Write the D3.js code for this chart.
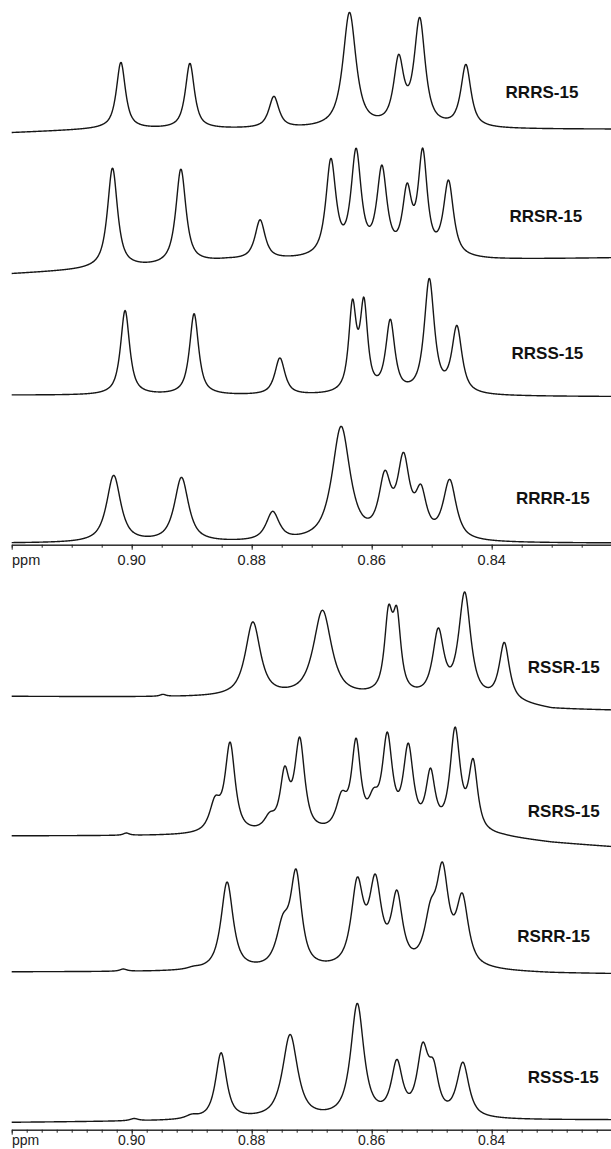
<!DOCTYPE html>
<html>
<head>
<meta charset="utf-8">
<script src="https://cdn.jsdelivr.net/npm/d3@7/dist/d3.min.js"></script>
<style>
  body { margin: 0; background: #fff; }
  svg { display: block; }
</style>
</head>
<body>
<div class="graph"></div>
<script>
// spectrum names, top to bottom
let names = ["RRRS-15", "RRSR-15", "RRSS-15", "RRRR-15", "RSSR-15", "RSRS-15", "RSRR-15", "RSSS-15"];

// peaks: [ppm, observed height above baseline, half width (ppm)]
let peaksRRRS = [[0.9018, 67, 0.0009], [0.8903, 66, 0.0009], [0.8763, 33, 0.0010], [0.8637, 117, 0.0013],
  [0.8555, 75, 0.0010], [0.8520, 112, 0.0011], [0.8443, 65, 0.0010]];
let peaksRRSR = [[0.9032, 101, 0.0010], [0.8918, 96, 0.0010], [0.8786, 41, 0.0010], [0.8668, 102, 0.0010],
  [0.8626, 112, 0.0010], [0.8583, 95, 0.0010], [0.8541, 77, 0.0009], [0.8515, 112, 0.0009], [0.8472, 80, 0.0010]];
let peaksRRSS = [[0.9011, 85, 0.0009], [0.8896, 82, 0.0009], [0.8753, 38, 0.0010], [0.8632, 97, 0.00075],
  [0.8613, 99, 0.00075], [0.8569, 77, 0.0009], [0.8504, 118, 0.0010], [0.8458, 71, 0.0010]];
let peaksRRRR = [[0.9030, 68, 0.0014], [0.8917, 66, 0.0014], [0.8765, 32, 0.0013], [0.8651, 117, 0.0018],
  [0.8578, 73, 0.0012], [0.8547, 91, 0.0012], [0.8518, 59, 0.0011], [0.8470, 64, 0.0013]];
let peaksRSSR = [[0.8948, 3, 0.0006], [0.8798, 76, 0.0015], [0.8682, 88, 0.0018], [0.8572, 94, 0.0008],
  [0.8558, 93, 0.0008], [0.8489, 73, 0.0011], [0.8445, 110, 0.0012], [0.8379, 61, 0.0010]];
let peaksRSRS = [[0.9009, 3, 0.0006], [0.8891, 5, 0.0012], [0.8861, 40, 0.0011], [0.8836, 94, 0.0010],
  [0.8770, 24, 0.0011], [0.8745, 70, 0.0009], [0.8720, 99, 0.0010], [0.8650, 45, 0.0011],
  [0.8626, 98, 0.0009], [0.8597, 48, 0.0010], [0.8574, 104, 0.0010], [0.8539, 93, 0.0010],
  [0.8502, 68, 0.0009], [0.8461, 109, 0.0010], [0.8431, 78, 0.0009]];
let peaksRSRR = [[0.9014, 3, 0.0007], [0.8897, 6, 0.0012], [0.8841, 90, 0.0012], [0.8748, 58, 0.0013],
  [0.8726, 103, 0.0011], [0.8624, 95, 0.0012], [0.8594, 98, 0.0012], [0.8558, 82, 0.0011],
  [0.8502, 72, 0.0012], [0.8482, 110, 0.0012], [0.8449, 79, 0.0012]];
let peaksRSSS = [[0.8996, 3, 0.0008], [0.8900, 7, 0.0012], [0.8851, 68, 0.0011], [0.8736, 86, 0.0015],
  [0.8624, 117, 0.0013], [0.8558, 61, 0.0011], [0.8515, 78, 0.0011], [0.8497, 61, 0.0010],
  [0.8448, 58, 0.0012]];

// baseline drift: [ppm, offset]
let driftRRRS = [[0.92, -3.5], [0.905, 0], [0.82, 0]];
let driftRRSR = [[0.92, -16], [0.907, -12], [0.8955, -9], [0.884, -3], [0.86, -2], [0.84, -2], [0.82, 0]];
let driftRRSS = [[0.92, 1.5], [0.82, 0]];
let driftRRRR = [[0.92, 0], [0.82, 0]];
let driftRSSR = [[0.92, 14], [0.86, 12], [0.837, 7], [0.83, 1], [0.82, 0]];
let driftRSRS = [[0.92, 11], [0.845, 11], [0.838, 9], [0.83, 4], [0.82, 0]];
let driftRSRR = [[0.92, 2], [0.84, 2], [0.83, 0.5], [0.82, 0]];
let driftRSSS = [[0.92, -2.5], [0.88, -0.5], [0.82, 0]];

let majorTicks = [0.92, 0.90, 0.88, 0.86, 0.84, 0.82];
let tickLabels = ["0.90", "0.88", "0.86", "0.84"];

let peaks = [peaksRRRS, peaksRRSR, peaksRRSS, peaksRRRR, peaksRSSR, peaksRSRS, peaksRSRR, peaksRSSS];
let drifts = [driftRRRS, driftRRSR, driftRRSS, driftRRRR, driftRSSR, driftRSRS, driftRSRR, driftRSSS];

// layout (pixels)
let w = 611;
let h = 1149;
let baseY = [129.3, 258, 396.7, 543.3, 710.5, 847, 974, 1120];
let labelPos = [[505.6, 98.3], [509.5, 221.7], [511.5, 359.3], [516, 504],
  [527.8, 673.3], [527.8, 816.7], [517.3, 941.7], [527.8, 1083.3]];
let axisY = [544.7, 1129.7];
let labelDy = [20.3, 15.8];
let minorStep = [0.005, 0.0025];

let svg = d3.select(".graph").append("svg").attr("width", w).attr("height", h);
svg.append("rect").attr("width", w).attr("height", h).attr("fill", "#fff");

let xScale = d3.scaleLinear().domain([0.92, 0.82]).range([11.7, 611.7]);

// line shape: mostly lorentzian
let eta = 0.85;
function shape(d, hw) {
  let u = (d / hw) * (d / hw);
  return eta / (1 + u) + (1 - eta) * Math.exp(-Math.LN2 * u);
}

// amplitudes so the summed trace hits the observed peak heights
function solveAmps(pk) {
  let amps = pk.map((p) => p[1]);
  for (let it = 0; it < 300; it++) {
    for (let i = 0; i < pk.length; i++) {
      let s = 0;
      for (let j = 0; j < pk.length; j++) {
        if (j != i) s += amps[j] * shape(pk[i][0] - pk[j][0], pk[j][2]);
      }
      amps[i] = Math.max(0, pk[i][1] - s);
    }
  }
  return amps;
}

let grid = d3.range(0, 2001).map((i) => 0.92 - i * 0.00005);

peaks.forEach(function (pk, k) {
  let amps = solveAmps(pk);
  let drift = d3.scaleLinear().domain(drifts[k].map((d) => d[0])).range(drifts[k].map((d) => d[1]));
  let yScale = d3.scaleLinear().domain([0, 100]).range([baseY[k], baseY[k] - 100]);
  let pts = grid.map(function (p) {
    let v = drift(p);
    pk.forEach(function (q, i) {
      v += amps[i] * shape(p - q[0], q[2]);
    });
    return [p, v];
  });
  let line = d3.line().curve(d3.curveBasis).x((d) => xScale(d[0])).y((d) => yScale(d[1]));
  svg.append("path")
    .attr("d", line(pts))
    .attr("fill", "none")
    .attr("stroke", "#161616")
    .attr("stroke-width", 1.4)
    .attr("stroke-linejoin", "round");

  svg.append("text")
    .attr("x", labelPos[k][0])
    .attr("y", labelPos[k][1])
    .attr("font-family", "Liberation Sans, Arial, sans-serif")
    .attr("font-weight", "bold")
    .attr("font-size", 17)
    .attr("fill", "#111")
    .text(names[k]);
});

axisY.forEach(function (ay, a) {
  let g = svg.append("g").attr("transform", "translate(0," + ay + ")");
  let minors = d3.range(0, Math.round(0.1 / minorStep[a]) + 1).map((i) => 0.82 + i * minorStep[a]);
  g.append("g").call(d3.axisBottom(xScale).tickValues(minors).tickSize(3).tickSizeOuter(0).tickFormat(""));
  g.append("g").call(d3.axisBottom(xScale).tickValues(majorTicks).tickSize(5).tickSizeOuter(0).tickFormat(""));
  g.selectAll("path, line").attr("stroke", "#222").attr("stroke-width", 1);

  g.selectAll(".lbl")
    .data(tickLabels)
    .enter()
    .append("text")
    .attr("class", "lbl")
    .attr("x", (d) => xScale(+d))
    .attr("y", labelDy[a])
    .attr("text-anchor", "middle")
    .attr("font-family", "Liberation Sans, Arial, sans-serif")
    .attr("font-size", a == 0 ? 14.5 : 14)
    .attr("fill", "#222")
    .text((d) => d);

  g.append("text")
    .attr("x", 12)
    .attr("y", labelDy[a])
    .attr("font-family", "Liberation Sans, Arial, sans-serif")
    .attr("font-size", a == 0 ? 14.5 : 14)
    .attr("fill", "#222")
    .text("ppm");
});
</script>
</body>
</html>
